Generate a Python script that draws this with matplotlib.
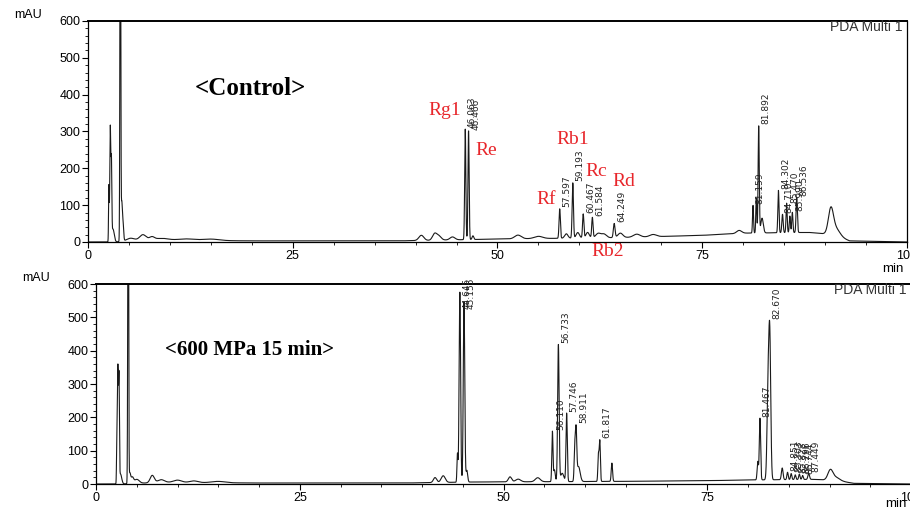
import numpy as np
import matplotlib
matplotlib.use("Agg")
import matplotlib.pyplot as plt
from matplotlib.ticker import MultipleLocator

plt.rcParams['font.family'] = ['Liberation Sans', 'DejaVu Sans']

# ---- Control chromatogram: peak retention time (min), height (mAU), width (sigma, min)
ctrl_t = [2.55, 2.72, 2.86, 3.05, 3.95, 4.12, 4.26, 5.2, 6.7, 7.8, 9.0, 12.0, 15.0,
          40.7, 42.3, 42.8, 44.5, 46.063, 46.466, 47.0, 52.5, 55.0,
          57.597, 58.4, 59.193, 59.8, 60.467, 61.0, 61.584, 62.3, 63.0, 64.249, 65.0, 67.0, 69.0,
          79.5, 81.2, 81.6, 81.892, 82.3, 84.302, 84.8, 85.3, 85.7, 86.0, 86.536, 90.7, 91.3]
ctrl_h = [150, 310, 200, 35, 1200, 95, 55, 8, 16, 8, 5, 4, 4,
          14, 16, 12, 8, 300, 295, 10, 10, 6,
          80, 12, 150, 15, 65, 15, 55, 12, 10, 38, 12, 8, 6,
          8, 75, 95, 290, 40, 115, 50, 80, 45, 55, 95, 65, 20]
ctrl_w = [0.04, 0.06, 0.05, 0.15, 0.05, 0.06, 0.08, 0.5, 0.4, 0.3, 0.8, 1.0, 1.0,
          0.3, 0.25, 0.3, 0.3, 0.07, 0.07, 0.1, 0.4, 0.5,
          0.08, 0.2, 0.08, 0.2, 0.08, 0.2, 0.08, 0.3, 0.3, 0.1, 0.3, 0.4, 0.4,
          0.3, 0.06, 0.06, 0.07, 0.15, 0.07, 0.08, 0.07, 0.07, 0.07, 0.08, 0.3, 0.5]
ctrl_base_t = [0, 3, 8, 20, 38, 50, 65, 75, 80, 88, 91, 93, 100]
ctrl_base_v = [0, 0, 5, 3, 3, 8, 12, 18, 24, 26, 20, 3, 0]
ctrl_labels = [46.063, 46.466, 57.597, 59.193, 60.467, 61.584, 64.249,
               81.159, 81.892, 84.302, 84.710, 85.470, 85.990, 86.536]

# ---- 600 MPa 15 min chromatogram
hp_t = [2.55, 2.68, 2.82, 3.0, 3.95, 4.15, 4.45, 5.0, 6.9, 8.0, 10.0, 12.0, 15.0,
        41.6, 42.6, 44.35, 44.645, 45.155, 45.5, 50.8, 51.8, 54.2,
        56.0, 56.25, 56.733, 57.2, 57.746, 58.75, 58.911, 59.2, 61.65, 61.817, 63.3,
        81.2, 81.467, 82.45, 82.670, 84.2, 84.851, 85.3, 85.8, 86.3, 86.7, 87.449, 90.1, 90.7]
hp_h = [100, 350, 300, 30, 1200, 30, 18, 12, 22, 8, 7, 5, 4,
        15, 20, 85, 570, 540, 35, 15, 8, 12,
        150, 35, 410, 25, 205, 100, 140, 45, 80, 120, 55,
        55, 185, 250, 420, 35, 22, 18, 14, 16, 12, 18, 28, 10]
hp_w = [0.04, 0.06, 0.05, 0.15, 0.05, 0.1, 0.15, 0.3, 0.25, 0.4, 0.5, 0.5, 0.8,
        0.2, 0.25, 0.06, 0.09, 0.09, 0.1, 0.2, 0.3, 0.3,
        0.07, 0.1, 0.09, 0.2, 0.08, 0.08, 0.08, 0.2, 0.07, 0.07, 0.08,
        0.08, 0.08, 0.12, 0.12, 0.1, 0.08, 0.08, 0.08, 0.08, 0.08, 0.1, 0.3, 0.5]
hp_base_t = [0, 3, 8, 20, 38, 46, 65, 75, 80, 88, 91, 93, 100]
hp_base_v = [0, 0, 5, 3, 3, 6, 8, 10, 12, 14, 10, 2, 0]
hp_labels = [44.645, 45.155, 56.110, 56.733, 57.746, 58.911, 61.817,
             81.467, 82.670, 84.851, 85.303, 85.828, 86.296, 86.744, 87.449]

# ---- red ginsenoside annotations on the control trace (name, x min, y mAU)
gins_names = ['Rg1', 'Re', 'Rb1', 'Rc', 'Rd', 'Rf', 'Rb2']
gins_x = [43.5, 48.6, 59.2, 62.0, 65.4, 56.0, 63.4]
gins_y = [356, 247, 277, 190, 163, 114, -25]

t = np.arange(0, 100, 0.005)


def trace(pt, ph, pw, bt, bv):
    y = np.interp(t, bt, bv)
    for a, h, w in zip(pt, ph, pw):
        y = y + h * np.exp(-0.5 * ((t - a) / w) ** 2)
    return y


def style(ax):
    ax.set_xlim(0, 100)
    ax.set_ylim(0, 600)
    ax.xaxis.set_major_locator(MultipleLocator(25))
    ax.xaxis.set_minor_locator(MultipleLocator(5))
    ax.yaxis.set_major_locator(MultipleLocator(100))
    ax.yaxis.set_minor_locator(MultipleLocator(20))
    ax.tick_params(which='major', direction='out', length=4, width=0.8, labelsize=9, pad=1.5)
    ax.tick_params(which='minor', direction='out', length=2, width=0.6)
    for s in ax.spines.values():
        s.set_linewidth(0.9)
    ax.spines['top'].set_linewidth(1.4)
    ax.text(0.995, 0.972, 'PDA Multi 1', transform=ax.transAxes, ha='right', va='center',
            fontsize=10, color='#333333')


def peak_labels(ax, y, labels):
    for lab in labels:
        m = (t > lab - 0.15) & (t < lab + 0.15)
        ya = min(y[m].max(), 520)
        ax.annotate(f'{lab:.3f}', xy=(lab, ya), xytext=(2, 1), textcoords='offset points',
                    rotation=90, ha='left', va='bottom', fontsize=6.5,
                    family=['Liberation Sans Narrow', 'DejaVu Sans'], color='#222222')


fig = plt.figure(figsize=(9.1, 5.09), dpi=100)
ax1 = fig.add_axes([0.0967, 0.5246, 0.9, 0.4342])
ax2 = fig.add_axes([0.1055, 0.0491, 0.8956, 0.3929])

y1 = trace(ctrl_t, ctrl_h, ctrl_w, ctrl_base_t, ctrl_base_v)
y2 = trace(hp_t, hp_h, hp_w, hp_base_t, hp_base_v)

ax1.plot(t, y1, color='#1a1a1a', lw=0.8)
ax2.plot(t, y2, color='#1a1a1a', lw=0.8)
style(ax1)
style(ax2)
peak_labels(ax1, y1, ctrl_labels)
peak_labels(ax2, y2, hp_labels)

serif = ['Liberation Serif', 'DejaVu Serif']
ax1.text(19.8, 418, '<Control>', fontsize=18, fontweight='bold', family=serif,
         ha='center', va='center')
ax2.text(18.9, 402, '<600 MPa 15 min>', fontsize=15, fontweight='bold', family=serif,
         ha='center', va='center')
for n, gx, gy in zip(gins_names, gins_x, gins_y):
    ax1.text(gx, gy, n, fontsize=14, family=serif, color='#e8262b',
             ha='center', va='center', clip_on=False)

fig.text(28 / 910, 1 - 15 / 509, 'mAU', fontsize=9, ha='center', va='center')
fig.text(36 / 910, 1 - 278 / 509, 'mAU', fontsize=9, ha='center', va='center')
fig.text(893 / 910, 1 - 269 / 509, 'min', fontsize=9.5, ha='center', va='center')
fig.text(896 / 910, 1 - 504 / 509, 'min', fontsize=9.5, ha='center', va='center')

fig.savefig('out.png', dpi=100)
